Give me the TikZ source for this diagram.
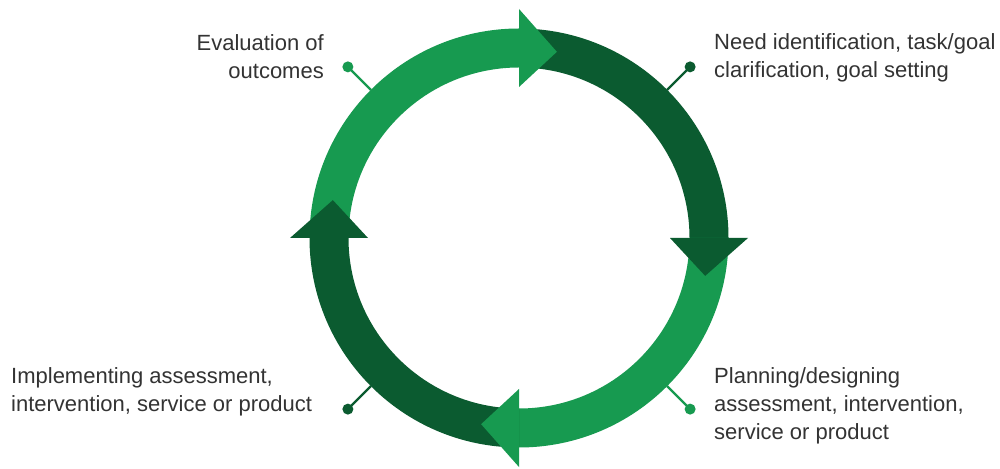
\documentclass[tikz,border=0pt]{standalone}
\usepackage{fontspec}
\setmainfont{Liberation Sans}
\usetikzlibrary{calc}
\definecolor{lightg}{HTML}{179A50}
\definecolor{darkg}{HTML}{0B5B30}
\definecolor{txt}{HTML}{333333}
\tikzset{
  lbl/.style={inner sep=0pt, text=txt, font=\fontsize{22}{28}\selectfont},
  dotnode/.style={circle, inner sep=0pt, minimum size=11pt},
  pin/.style={line width=2.2pt},
}
\newcommand{\ringbody}[3]{% color, start angle, end angle
  \fill[#1] ([shift={(#2:209.5)}]C) arc[start angle=#2, end angle=#3, radius=209.5]
    -- ([shift={(#3:170.5)}]C) arc[start angle=#3, end angle=#2, radius=170.5] -- cycle;}
\newcommand{\ringhead}[2]{% color, base angle
  \fill[#1] ([shift={(#2:229)}]C) -- ([shift={(#2-11.5:190)}]C) -- ([shift={(#2:151)}]C) -- cycle;}
\begin{document}
\begin{tikzpicture}[x=1pt,y=1pt]
\useasboundingbox (0,0) rectangle (1000,468);
\fill[white] (0,0) rectangle (1000,468);
\coordinate (C) at (519,230);
% bodies
\ringbody{lightg}{180}{90}
\ringbody{darkg}{90}{0}
\ringbody{lightg}{0}{-90}
\ringbody{darkg}{-90}{-180}
% heads
\ringhead{lightg}{90}
\ringhead{darkg}{0}
\ringhead{lightg}{-90}
\ringhead{darkg}{180}
% pins
\coordinate (r1) at ([shift={(135:209.5)}]C);
\coordinate (r2) at ([shift={(45:209.5)}]C);
\coordinate (r3) at ([shift={(-45:209.5)}]C);
\coordinate (r4) at ([shift={(-135:209.5)}]C);
\node[dotnode, fill=lightg] (d1) at ([shift={(135:242)}]C) {};
\node[dotnode, fill=darkg] (d2) at ([shift={(45:242)}]C) {};
\node[dotnode, fill=lightg] (d3) at ([shift={(-45:242)}]C) {};
\node[dotnode, fill=darkg] (d4) at ([shift={(-135:242)}]C) {};
\draw[pin, lightg] (r1) -- (d1.center);
\draw[pin, darkg] (r2) -- (d2.center);
\draw[pin, lightg] (r3) -- (d3.center);
\draw[pin, darkg] (r4) -- (d4.center);
% labels
\node[lbl, anchor=east, align=right] (t1) at (324,411) {Evaluation of\\outcomes};
\node[lbl, anchor=west, align=left] (t2) at (714,410) {Need identification, task/goal\\clarification, goal setting};
\node[lbl, anchor=west, align=left] (t3) at (714,62) {Planning/designing\\assessment, intervention,\\service or product};
\node[lbl, anchor=west, align=left] (t4) at (11,76) {Implementing assessment,\\intervention, service or product};
\end{tikzpicture}
\end{document}
